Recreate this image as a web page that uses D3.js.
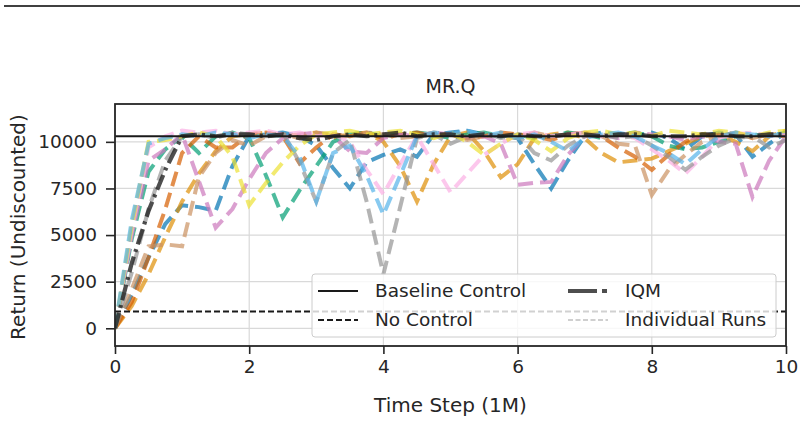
<script src="https://d3js.org/d3.v7.min.js"></script>
<style>
  body { margin: 0; background: #fff; }
  svg text { font-family: "DejaVu Sans", sans-serif; fill: #262626; }
</style>
<svg id="chart" width="804" height="421"></svg>
<script>
  // time steps (1M)
  const timeSteps = [0, 0.25, 0.5, 0.75, 1, 1.25, 1.5, 1.75, 2, 2.25, 2.5, 2.75, 3, 3.25, 3.5, 3.75, 4, 4.25, 4.5, 4.75,
    5, 5.25, 5.5, 5.75, 6, 6.25, 6.5, 6.75, 7, 7.25, 7.5, 7.75, 8, 8.25, 8.5, 8.75, 9, 9.25, 9.5, 9.75, 10];

  // individual runs
  const runBlue = [0, 1800, 3800, 5600, 6600, 6500, 6300, 8700, 10300, 10400, 10500, 10300, 9800, 8600, 7500, 8900, 9300, 9600, 9200, 10400,
    10500, 10600, 10400, 10300, 10200, 8800, 7500, 9000, 10300, 10500, 10400, 10300, 10500, 10200, 9600, 10300, 10500, 10400, 9200, 9900, 10500];
  const runOrange = [0, 1200, 2900, 4900, 6800, 8300, 9500, 10300, 10400, 10500, 10300, 10400, 10500, 10200, 10400, 10500, 10000, 8700, 6800, 8800,
    10300, 10500, 9500, 8100, 8800, 10200, 10400, 10500, 10200, 9400, 8900, 9000, 9100, 9500, 9900, 10300, 10400, 10000, 9500, 10300, 10600];
  const runGreen = [0, 4800, 8400, 9600, 10300, 9400, 10300, 10500, 10200, 8200, 5950, 7400, 8700, 10000, 10400, 10500, 10300, 10400, 10500, 10400,
    10200, 10400, 10500, 10300, 10400, 10200, 10300, 10500, 10400, 10200, 10400, 10500, 10300, 9800, 9600, 9700, 10000, 10300, 10400, 10300, 10500];
  const runRed = [0, 1400, 3800, 6400, 9400, 10300, 9700, 9700, 10400, 10500, 10300, 8850, 9700, 10400, 10300, 10500, 10200, 10400, 10500, 10300,
    10400, 10200, 10300, 10500, 10400, 10300, 10100, 10400, 10500, 10300, 9700, 9200, 8500, 9300, 10000, 10400, 10300, 10500, 10200, 10400, 10300];
  const runPurple = [0, 5000, 9000, 9600, 10400, 7900, 5400, 6400, 8000, 9400, 10200, 10400, 10500, 10300, 9500, 9400, 10200, 10400, 10300, 10500,
    10400, 10200, 10300, 9900, 7700, 7800, 7850, 9300, 10300, 10400, 10200, 10500, 10400, 10300, 10100, 10300, 10000, 9900, 7050, 9000, 10300];
  const runBrown = [0, 2100, 4400, 4500, 4400, 8100, 9400, 10100, 9800, 10300, 10400, 10200, 10500, 10400, 10300, 10500, 10400, 10200, 10300, 10500,
    10400, 10100, 10300, 10400, 10200, 10500, 10300, 10400, 10500, 10300, 9900, 9800, 7150, 8500, 9300, 10000, 10300, 10500, 10200, 10400, 10300];
  const runPink = [0, 5200, 9700, 10300, 10600, 10500, 10600, 10400, 10500, 10600, 10400, 10500, 10300, 10400, 10000, 8500, 7200, 8800, 10300, 8800,
    7300, 8300, 9300, 9900, 10400, 10500, 10300, 10400, 10500, 10300, 10400, 10200, 9600, 9000, 8300, 9200, 10200, 10400, 10500, 10300, 10400];
  const runGray = [0, 3000, 6400, 9000, 10300, 10400, 10200, 10500, 10400, 10300, 10500, 8900, 6800, 9400, 10100, 6800, 2900, 6500, 10200, 10400,
    9900, 10300, 10500, 10200, 10400, 9400, 9000, 9800, 10300, 10400, 10200, 10300, 9800, 9200, 8500, 9200, 9800, 10200, 10300, 9700, 10100];
  const runYellow = [0, 5500, 10000, 10100, 10300, 10500, 10300, 9200, 6600, 7800, 8900, 9800, 10400, 10500, 10600, 10400, 10500, 10600, 10400, 10200,
    10500, 10000, 9300, 9900, 10400, 10100, 9500, 10200, 10500, 10600, 10400, 10500, 10300, 10600, 10500, 10400, 10600, 10500, 10300, 10500, 10600];
  const runLightBlue = [0, 5800, 9900, 10200, 10400, 10300, 10500, 10400, 10200, 10400, 10300, 9200, 6800, 9400, 9800, 8200, 6100, 8200, 10300, 10500,
    10400, 10600, 10300, 10500, 10200, 10400, 10000, 9500, 10200, 10400, 10500, 10300, 9800, 9400, 8800, 9600, 10300, 10500, 10400, 10300, 10500];

  const runs = [runBlue, runOrange, runGreen, runRed, runPurple, runBrown, runPink, runGray, runYellow, runLightBlue];
  const runColors = ["#0173b2", "#de8f05", "#029e73", "#d55e00", "#cc78bc", "#ca9161", "#fbafe4", "#949494", "#ece133", "#56b4e9"];

  // interquartile mean over runs
  const iqm = [0, 3500, 6300, 8500, 10300, 10400, 10300, 10400, 10400, 10300, 10400, 10200, 10100, 10300, 10400, 10300, 10400, 10500, 10300, 10400,
    10400, 10300, 10400, 10300, 10400, 10300, 10300, 10400, 10400, 10300, 10400, 10400, 10300, 10300, 10300, 10400, 10400, 10300, 10300, 10400, 10400];

  const baselineControl = 10300;
  const noControl = 900;

  const xTicks = [0, 2, 4, 6, 8, 10];
  const yTicks = [0, 2500, 5000, 7500, 10000];
  const legendItems = ["Baseline Control", "IQM", "No Control", "Individual Runs"];

  const svg = d3.select("#chart");
  const plotLeft = 115, plotRight = 786, plotTop = 104, plotBottom = 346;

  const x = d3.scaleLinear().domain([0, 10]).range([plotLeft, plotRight]);
  const y = d3.scaleLinear().domain([-950, 12030]).range([plotBottom, plotTop]);

  // rule at the top of the page
  svg.append("line")
    .attr("x1", 4).attr("x2", 800).attr("y1", 6).attr("y2", 6)
    .attr("stroke", "#000").attr("stroke-width", 1.5);

  // grid
  const grid = svg.append("g").attr("stroke", "#d9d9d9").attr("stroke-width", 1.2);
  grid.selectAll(".gx").data(xTicks).enter().append("line")
    .attr("x1", d => x(d)).attr("x2", d => x(d)).attr("y1", plotTop).attr("y2", plotBottom);
  grid.selectAll(".gy").data(yTicks).enter().append("line")
    .attr("y1", d => y(d)).attr("y2", d => y(d)).attr("x1", plotLeft).attr("x2", plotRight);

  svg.append("clipPath").attr("id", "clip")
    .append("rect").attr("x", plotLeft).attr("y", plotTop)
    .attr("width", plotRight - plotLeft).attr("height", plotBottom - plotTop);

  const plot = svg.append("g").attr("clip-path", "url(#clip)");

  const line = d3.line()
    .x((d, i) => x(timeSteps[i]))
    .y(d => y(d));

  // individual runs
  plot.selectAll(".run").data(runs).enter().append("path")
    .attr("class", "run")
    .attr("d", line)
    .attr("fill", "none")
    .attr("stroke", (d, i) => runColors[i])
    .attr("stroke-width", 4)
    .attr("stroke-opacity", 0.7)
    .attr("stroke-dasharray", "15,7");

  // IQM
  plot.append("path")
    .attr("d", line(iqm))
    .attr("fill", "none")
    .attr("stroke", "#222")
    .attr("stroke-opacity", 0.8)
    .attr("stroke-width", 4.2)
    .attr("stroke-dasharray", "16,5,3,5");

  // baseline & no control
  plot.append("line")
    .attr("x1", plotLeft).attr("x2", plotRight)
    .attr("y1", y(baselineControl)).attr("y2", y(baselineControl))
    .attr("stroke", "#1a1a1a").attr("stroke-width", 2);
  plot.append("line")
    .attr("x1", plotLeft).attr("x2", plotRight)
    .attr("y1", y(noControl)).attr("y2", y(noControl))
    .attr("stroke", "#1a1a1a").attr("stroke-width", 2)
    .attr("stroke-dasharray", "6,3");

  // axes
  const xAxis = svg.append("g")
    .attr("transform", `translate(0,${plotBottom})`)
    .call(d3.axisBottom(x).tickValues(xTicks).tickSize(8).tickPadding(6));
  const yAxis = svg.append("g")
    .attr("transform", `translate(${plotLeft},0)`)
    .call(d3.axisLeft(y).tickValues(yTicks).tickFormat(d3.format("d")).tickSize(9).tickPadding(9));
  [xAxis, yAxis].forEach(a => {
    a.select(".domain").remove();
    a.selectAll(".tick line").attr("stroke", "#262626").attr("stroke-width", 1.6);
    a.selectAll(".tick text").style("font-size", "18.5px").attr("fill", "#262626");
  });

  // frame
  svg.append("rect")
    .attr("x", plotLeft).attr("y", plotTop)
    .attr("width", plotRight - plotLeft).attr("height", plotBottom - plotTop)
    .attr("fill", "none").attr("stroke", "#262626").attr("stroke-width", 1.8);

  // labels
  svg.append("text")
    .attr("x", (plotLeft + plotRight) / 2).attr("y", 93)
    .attr("text-anchor", "middle")
    .style("font-size", "19px")
    .text("MR.Q");
  svg.append("text")
    .attr("x", (plotLeft + plotRight) / 2).attr("y", 412)
    .attr("text-anchor", "middle")
    .style("font-size", "20px")
    .text("Time Step (1M)");
  svg.append("text")
    .attr("transform", `translate(25,${(plotTop + plotBottom) / 2 + 2}) rotate(-90)`)
    .attr("text-anchor", "middle")
    .style("font-size", "20px")
    .text("Return (Undiscounted)");

  // legend
  const legend = svg.append("g");
  legend.append("rect")
    .attr("x", 312).attr("y", 274).attr("width", 464).attr("height", 63)
    .attr("rx", 3)
    .attr("fill", "#fff").attr("fill-opacity", 0.8)
    .attr("stroke", "#cccccc").attr("stroke-width", 1);

  const legendPos = [[318, 291], [568, 291], [318, 320], [568, 320]];
  const handles = [
    {stroke: "#1a1a1a", width: 2, dash: null, opacity: 1},
    {stroke: "#222", width: 4.2, dash: "29,5,5,5", opacity: 0.8},
    {stroke: "#1a1a1a", width: 2, dash: "6,3", opacity: 1},
    {stroke: "#949494", width: 1.5, dash: "5,2.5", opacity: 0.6}
  ];
  legendItems.forEach((name, i) => {
    const [lx, ly] = legendPos[i];
    const h = handles[i];
    legend.append("line")
      .attr("x1", lx).attr("x2", lx + 40).attr("y1", ly).attr("y2", ly)
      .attr("stroke", h.stroke).attr("stroke-width", h.width)
      .attr("stroke-opacity", h.opacity)
      .attr("stroke-dasharray", h.dash);
    legend.append("text")
      .attr("x", lx + 57).attr("y", ly).attr("dy", "0.35em")
      .style("font-size", "18.5px")
      .text(name);
  });
</script>
